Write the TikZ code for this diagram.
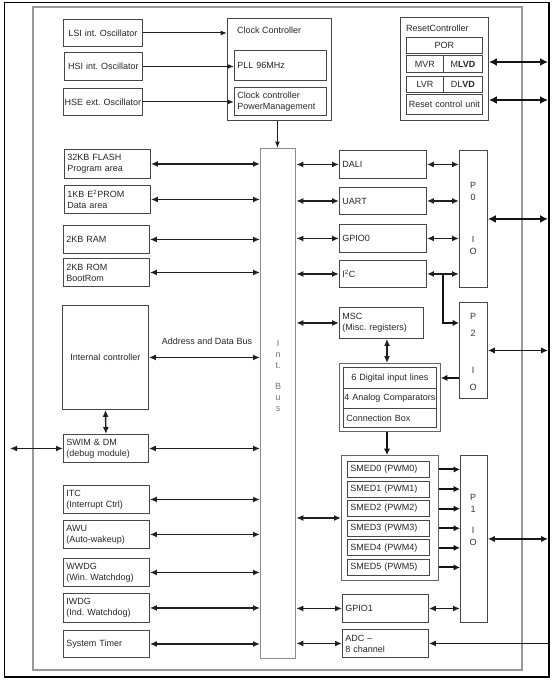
\documentclass[tikz,border=0pt]{standalone}
\usepackage{fontspec}
\setmainfont{Liberation Sans}
\usetikzlibrary{arrows.meta}
\newcommand\bx[7][]{\node[blk,align=left,minimum width={(#5)-(#3)},minimum height={(#6)-(#4)},text width={(#5)-(#3)-6},#1] (#2) at (#3,#4) {#7};}
\begin{document}
\frenchspacing
\begin{tikzpicture}[x=1pt,y=-1pt,
  every node/.style={text=black!85},
  blk/.style={draw=black!72, line width=0.9pt, anchor=north west, inner xsep=3pt, inner ysep=0pt, font=\fontsize{9}{11}\selectfont},
  lbl/.style={font=\fontsize{9}{11}\selectfont, inner sep=0pt},
  ptxt/.style={align=center, inner sep=0pt, text=black!80},
  arr/.style={draw=black!88, line width=1.4pt, {Latex[length=7pt,width=6pt]}-{Latex[length=7pt,width=6pt]}},
  ext/.style={draw=black!92, line width=2.2pt, {Latex[length=8pt,width=8pt]}-{Latex[length=8pt,width=8pt]}},
  extm/.style={draw=black!90, line width=1.6pt, {Latex[length=7pt,width=6.5pt]}-{Latex[length=7pt,width=6.5pt]}},
  one/.style={draw=black!88, line width=1pt, -{Latex[length=6.5pt,width=5pt]}},
  inm/.style={draw=black!90, line width=1.5pt, -{Latex[length=7pt,width=6pt]}},
  fat/.style={draw=black!92, line width=2pt, -{Latex[length=6.5pt,width=6.5pt]}}]
\useasboundingbox (0,0) rectangle (553,680);
% frames
\draw[draw=black!40, line width=1.4pt] (33,7) rectangle (522,670);
\draw[black, line width=0.9pt] (4,2) rectangle (549,677);
\draw[black, line width=1.8pt] (549,2) -- (549,677) -- (4,677);
% clock
\bx[align=center]{lsi}{63}{19}{142}{46}{LSI int. Oscillator}
\bx[align=center]{hsi}{64}{52}{142}{80}{\mbox{HSI int. Oscillator}}
\bx[align=center,inner xsep=0.5pt,text width=78]{hse}{63}{88}{142}{115}{\mbox{HSE ext. Oscillator}}
\bx{clk}{227}{18}{331}{120}{}
\node[lbl,anchor=west] (clkt) at (237,30) {Clock Controller};
\bx{pll}{234}{50}{326}{80}{PLL 96MHz}
\bx{cpm}{234}{87}{326}{115}{Clock controller\\PowerManagement}
% reset
\bx{rst}{400}{17}{488}{120}{}
\node[lbl,anchor=west] (rstt) at (406,28) {ResetController};
\bx[align=center]{por}{406}{37}{482}{53}{POR}
\bx[align=center]{mvr}{406}{55}{443}{72}{MVR}
\bx[align=center]{mlvd}{443}{55}{482}{72}{M\textbf{LVD}}
\bx[align=center]{lvr}{406}{76}{443}{92}{LVR}
\bx[align=center]{dlvd}{443}{76}{482}{92}{DL\textbf{VD}}
\bx[align=center,inner xsep=1pt,text width=74]{rcu}{406}{94}{482}{114}{\mbox{Reset control unit}}
% left column
\bx{flash}{64}{149}{150}{178}{32KB FLASH\\Program area}
\bx{eeprom}{64}{185}{150}{213}{1KB E\textsuperscript{2}PROM\\Data area}
\bx{ram}{63}{225}{149}{253}{2KB RAM}
\bx{rom}{63}{258}{149}{286}{2KB ROM\\BootRom}
\bx[align=center]{ictl}{62}{305}{148}{409}{Internal controller}
\bx{swim}{63}{434}{148}{462}{SWIM \& DM\\(debug module)}
\bx{itc}{63}{485}{149}{513}{ITC\\(Interrupt Ctrl)}
\bx{awu}{63}{520}{149}{548}{AWU\\(Auto-wakeup)}
\bx{wwdg}{63}{558}{149}{586}{WWDG\\(Win. Watchdog)}
\bx{iwdg}{63}{593}{149}{622}{IWDG\\(Ind. Watchdog)}
\bx{stim}{63}{630}{149}{657}{System Timer}
\node[lbl] (adb) at (207,341) {Address and Data Bus};
% bus
\bx[draw=black!45,line width=1.3pt]{bus}{260}{148}{295}{658}{}
\node[ptxt,text=black!55,font=\fontsize{9}{11}\selectfont] (bust) at (278,376) {I\\n\\t.\\[10pt]B\\u\\s};
% right column
\bx{dali}{339}{150}{426}{178}{DALI}
\bx{uart}{339}{187}{426}{214}{UART}
\bx{gpioa}{339}{224}{426}{252}{GPIO0}
\bx{iic}{339}{260}{426}{287}{I\textsuperscript{2}C}
\bx{pzero}{459}{150}{487}{287}{}
\node[ptxt,font=\fontsize{9}{12}\selectfont] (pzerot) at (473,218) {P\\0\\[30pt]I\\O};
\bx{msc}{339}{307}{423}{338}{MSC\\(Misc. registers)}
\bx{ptwo}{459}{302}{487}{398}{}
\node[ptxt,font=\fontsize{9}{16.5}\selectfont] (ptwot) at (473,352) {P\\2\\[21pt]I\\O};
\bx[draw=black!60]{cbox}{339}{363}{440}{431}{}
\bx[align=center]{dig}{343}{367}{436}{388}{\mbox{6 Digital input lines}}
\bx[inner xsep=1pt,text width=91]{ana}{343}{388}{436}{408}{\mbox{4 Analog Comparators}}
\bx{conn}{343}{408}{436}{427}{Connection Box}
\bx[draw=black!60]{smed}{341}{455}{438}{580}{}
\foreach \i in {0,...,5}{
  \bx{smed\i}{347}{461+19.6*\i}{429}{477+19.6*\i}{SMED\i{} (PWM\i)}
}
\bx{pone}{460}{455}{487}{622}{}
\node[ptxt,font=\fontsize{9}{11.5}\selectfont] (ponet) at (473,520) {P\\1\\[10pt]I\\O};
\bx{gpiob}{342}{594}{428}{622}{GPIO1}
\bx{adc}{342}{629}{428}{657}{ADC –\\8 channel}
% helper coordinates
\coordinate (edge) at (548,0);
\coordinate (lft) at (10,0);
\coordinate (vx) at (387,0);
\coordinate (jn) at (443,0);
\coordinate (r1) at (548,62);
\coordinate (r2) at (548,100);
% oscillator arrows
\draw[one] (lsi.east) -- (lsi.east -| clk.west);
\draw[one] (hsi.east) -- (hsi.east -| pll.west);
\draw[one] (hse.east) -- (hse.east -| cpm.west);
\draw[one] ([xshift=-2pt]clk.south) -- ([xshift=-2pt]clk.south |- bus.north);
% left bus arrows
\foreach \n in {flash,eeprom,ram,rom,ictl,swim,itc,awu,wwdg,iwdg,stim}
  \draw[arr] (\n.east) -- (\n.east -| bus.west);
\draw[arr] (ictl.south) -- (swim.north);
\draw[arr] (swim.west) -- (swim.west -| lft);
% right bus arrows
\foreach \n in {dali,uart,gpioa,iic,msc,smed,gpiob,adc}
  \draw[arr] (bus.east |- \n.west) -- (\n.west);
\foreach \n in {dali,uart,gpioa,iic}
  \draw[arr] (\n.east) -- (\n.east -| pzero.west);
\draw[arr] (gpiob.east) -- (gpiob.east -| pone.west);
\foreach \i in {0,...,5}
  \draw[fat] (smed.east |- smed\i.east) -- (pone.west |- smed\i.east);
\draw[arr] (msc.south -| vx) -- (cbox.north -| vx);
\draw[fat] (cbox.south -| vx) -- (smed.north -| vx);
\draw[fat] (ptwo.west |- dig.east) -- (cbox.east |- dig.east);
\draw[fat] (iic.east -| jn) |- (ptwo.west |- msc.east);
% external arrows
\draw[ext] (r1 -| rst.east) -- (r1);
\draw[ext] (r2 -| rst.east) -- (r2);
\draw[ext] (pzero.east) -- (pzero.east -| edge);
\draw[extm] (ptwo.east) -- (ptwo.east -| edge);
\draw[extm] (pone.east) -- (pone.east -| edge);
\draw[inm] (adc.east -| edge) -- (adc.east);
\end{tikzpicture}
\end{document}
